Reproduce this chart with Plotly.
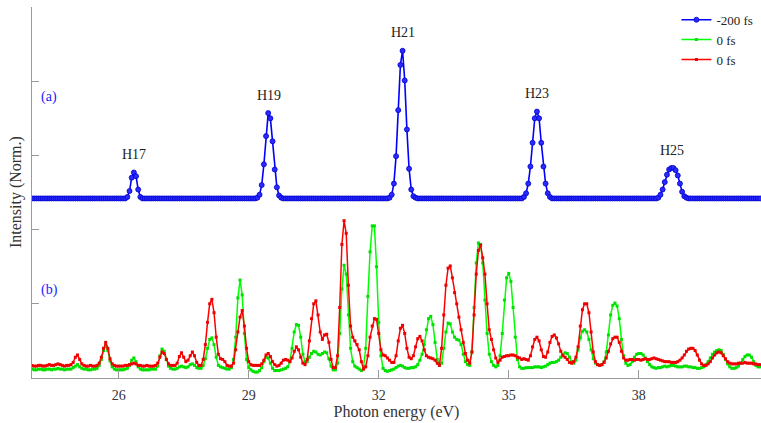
import numpy as np
import plotly.graph_objects as go

# ---------------- data (photon energy grid: 24.00 eV, step 0.05 eV) ----------------
E_START = 24.0
E_STEP = 0.05

# -200 fs (blue), offset trace (a)
B24 = [2.42, 2.42, 2.42, 2.42, 2.42, 2.42, 2.42, 2.42, 2.42, 2.42, 2.42, 2.42, 2.42, 2.42, 2.42, 2.42, 2.42, 2.42, 2.42, 2.42]
B25 = [2.42, 2.42, 2.42, 2.42, 2.42, 2.42, 2.42, 2.42, 2.42, 2.42, 2.42, 2.42, 2.42, 2.42, 2.42, 2.42, 2.42, 2.42, 2.42, 2.42]
B26 = [2.42, 2.42, 2.42, 2.42, 2.44, 2.52, 2.70, 2.77, 2.72, 2.54, 2.44, 2.42, 2.42, 2.42, 2.42, 2.42, 2.42, 2.42, 2.42, 2.42]
B27 = [2.42, 2.42, 2.42, 2.42, 2.42, 2.42, 2.42, 2.42, 2.42, 2.42, 2.42, 2.42, 2.42, 2.42, 2.42, 2.42, 2.42, 2.42, 2.42, 2.42]
B28 = [2.42, 2.42, 2.42, 2.42, 2.42, 2.42, 2.42, 2.42, 2.42, 2.42, 2.42, 2.42, 2.42, 2.42, 2.42, 2.42, 2.42, 2.42, 2.42, 2.42]
B29 = [2.42, 2.42, 2.42, 2.42, 2.43, 2.47, 2.60, 2.88, 3.26, 3.57, 3.50, 3.19, 2.81, 2.57, 2.46, 2.43, 2.42, 2.42, 2.42, 2.42]
B30 = [2.42, 2.42, 2.42, 2.42, 2.42, 2.42, 2.42, 2.42, 2.42, 2.42, 2.42, 2.42, 2.42, 2.42, 2.42, 2.42, 2.42, 2.42, 2.42, 2.42]
B31 = [2.42, 2.42, 2.42, 2.42, 2.42, 2.42, 2.42, 2.42, 2.42, 2.42, 2.42, 2.42, 2.42, 2.42, 2.42, 2.42, 2.42, 2.42, 2.42, 2.42]
B32 = [2.42, 2.42, 2.42, 2.42, 2.42, 2.43, 2.47, 2.62, 2.99, 3.61, 4.22, 4.41, 4.01, 3.35, 2.82, 2.54, 2.45, 2.43, 2.42, 2.42]
B33 = [2.42, 2.42, 2.42, 2.42, 2.42, 2.42, 2.42, 2.42, 2.42, 2.42, 2.42, 2.42, 2.42, 2.42, 2.42, 2.42, 2.42, 2.42, 2.42, 2.42]
B34 = [2.42, 2.42, 2.42, 2.42, 2.42, 2.42, 2.42, 2.42, 2.42, 2.42, 2.42, 2.42, 2.42, 2.42, 2.42, 2.42, 2.42, 2.42, 2.42, 2.42]
B35 = [2.42, 2.42, 2.42, 2.42, 2.42, 2.42, 2.42, 2.44, 2.49, 2.62, 2.85, 3.17, 3.50, 3.59, 3.50, 3.17, 2.85, 2.62, 2.49, 2.44]
B36 = [2.42, 2.42, 2.42, 2.42, 2.42, 2.42, 2.42, 2.42, 2.42, 2.42, 2.42, 2.42, 2.42, 2.42, 2.42, 2.42, 2.42, 2.42, 2.42, 2.42]
B37 = [2.42, 2.42, 2.42, 2.42, 2.42, 2.42, 2.42, 2.42, 2.42, 2.42, 2.42, 2.42, 2.42, 2.42, 2.42, 2.42, 2.42, 2.42, 2.42, 2.42]
B38 = [2.42, 2.42, 2.42, 2.42, 2.42, 2.42, 2.42, 2.42, 2.42, 2.43, 2.47, 2.54, 2.64, 2.74, 2.81, 2.83, 2.83, 2.80, 2.73, 2.62]
B39 = [2.51, 2.45, 2.43, 2.42, 2.42, 2.42, 2.42, 2.42, 2.42, 2.42, 2.42, 2.42, 2.42, 2.42, 2.42, 2.42, 2.42, 2.42, 2.42, 2.42]
B40 = [2.42, 2.42, 2.42, 2.42, 2.42, 2.42, 2.42, 2.42, 2.42, 2.42, 2.42, 2.42, 2.42, 2.42, 2.42, 2.42, 2.42]

# 0 fs (green), trace (b)
G24 = [0.12, 0.11, 0.11, 0.12, 0.12, 0.11, 0.11, 0.12, 0.12, 0.11, 0.12, 0.12, 0.13, 0.12, 0.12, 0.11, 0.12, 0.12, 0.12, 0.14]
G25 = [0.16, 0.18, 0.15, 0.13, 0.12, 0.12, 0.11, 0.11, 0.12, 0.12, 0.13, 0.17, 0.25, 0.37, 0.44, 0.37, 0.23, 0.15, 0.12, 0.11]
G26 = [0.11, 0.11, 0.11, 0.12, 0.13, 0.17, 0.24, 0.27, 0.22, 0.15, 0.12, 0.11, 0.11, 0.11, 0.11, 0.12, 0.12, 0.12, 0.16, 0.30]
G27 = [0.39, 0.36, 0.25, 0.16, 0.13, 0.12, 0.12, 0.13, 0.15, 0.16, 0.15, 0.14, 0.15, 0.18, 0.19, 0.17, 0.14, 0.13, 0.13, 0.17]
G28 = [0.26, 0.40, 0.52, 0.54, 0.45, 0.28, 0.17, 0.15, 0.14, 0.13, 0.12, 0.12, 0.14, 0.25, 0.55, 1.08, 1.32, 1.12, 0.60, 0.25]
G29 = [0.14, 0.11, 0.09, 0.08, 0.08, 0.10, 0.14, 0.22, 0.28, 0.27, 0.20, 0.13, 0.10, 0.10, 0.10, 0.11, 0.12, 0.13, 0.15, 0.22]
G30 = [0.40, 0.62, 0.72, 0.71, 0.55, 0.32, 0.22, 0.22, 0.28, 0.33, 0.36, 0.35, 0.32, 0.31, 0.33, 0.35, 0.34, 0.26, 0.16, 0.11]
G31 = [0.11, 0.20, 0.60, 1.20, 1.52, 1.40, 0.85, 0.40, 0.22, 0.16, 0.14, 0.12, 0.10, 0.15, 0.40, 1.10, 1.70, 2.05, 2.05, 1.50]
G32 = [0.75, 0.30, 0.13, 0.10, 0.09, 0.10, 0.11, 0.12, 0.14, 0.16, 0.17, 0.16, 0.14, 0.13, 0.13, 0.14, 0.14, 0.15, 0.18, 0.24]
G33 = [0.32, 0.45, 0.65, 0.80, 0.83, 0.72, 0.48, 0.25, 0.17, 0.20, 0.40, 0.62, 0.74, 0.73, 0.62, 0.55, 0.52, 0.51, 0.45, 0.32]
G34 = [0.22, 0.18, 0.17, 0.35, 0.95, 1.55, 1.82, 1.80, 1.55, 1.05, 0.60, 0.32, 0.22, 0.17, 0.15, 0.17, 0.30, 0.60, 1.05, 1.35]
G35 = [1.41, 1.30, 0.95, 0.55, 0.25, 0.15, 0.13, 0.13, 0.14, 0.14, 0.14, 0.14, 0.15, 0.15, 0.15, 0.14, 0.15, 0.16, 0.18, 0.20]
G36 = [0.21, 0.21, 0.22, 0.24, 0.28, 0.32, 0.34, 0.33, 0.28, 0.22, 0.20, 0.24, 0.38, 0.54, 0.63, 0.65, 0.62, 0.52, 0.38, 0.26]
G37 = [0.20, 0.18, 0.17, 0.18, 0.22, 0.35, 0.58, 0.85, 0.98, 1.01, 0.97, 0.80, 0.52, 0.30, 0.20, 0.17, 0.18, 0.22, 0.28, 0.32]
G38 = [0.33, 0.33, 0.31, 0.27, 0.22, 0.18, 0.15, 0.14, 0.13, 0.14, 0.14, 0.15, 0.16, 0.15, 0.16, 0.17, 0.17, 0.16, 0.15, 0.15]
G39 = [0.15, 0.16, 0.16, 0.15, 0.15, 0.14, 0.14, 0.13, 0.13, 0.14, 0.15, 0.18, 0.22, 0.27, 0.32, 0.35, 0.37, 0.38, 0.37, 0.32]
G40 = [0.25, 0.19, 0.15, 0.13, 0.13, 0.14, 0.16, 0.20, 0.25, 0.29, 0.31, 0.31, 0.28, 0.22, 0.17, 0.15, 0.15]

# 0 fs (red), trace (b)
R24 = [0.17, 0.16, 0.16, 0.17, 0.17, 0.16, 0.16, 0.17, 0.18, 0.17, 0.17, 0.18, 0.19, 0.18, 0.17, 0.16, 0.17, 0.17, 0.18, 0.21]
R25 = [0.28, 0.31, 0.25, 0.19, 0.17, 0.16, 0.16, 0.17, 0.16, 0.16, 0.17, 0.20, 0.28, 0.40, 0.48, 0.40, 0.26, 0.19, 0.17, 0.16]
R26 = [0.16, 0.16, 0.16, 0.17, 0.17, 0.18, 0.19, 0.20, 0.19, 0.17, 0.17, 0.16, 0.16, 0.17, 0.16, 0.16, 0.16, 0.17, 0.20, 0.28]
R27 = [0.35, 0.33, 0.25, 0.19, 0.17, 0.17, 0.17, 0.20, 0.29, 0.34, 0.28, 0.22, 0.24, 0.30, 0.35, 0.30, 0.21, 0.17, 0.17, 0.25]
R28 = [0.45, 0.75, 1.00, 1.06, 0.88, 0.55, 0.32, 0.26, 0.25, 0.22, 0.17, 0.16, 0.16, 0.20, 0.38, 0.62, 0.82, 0.91, 0.70, 0.40]
R29 = [0.22, 0.18, 0.17, 0.17, 0.17, 0.17, 0.19, 0.24, 0.31, 0.33, 0.29, 0.22, 0.18, 0.16, 0.17, 0.20, 0.24, 0.25, 0.24, 0.22]
R30 = [0.27, 0.36, 0.42, 0.38, 0.28, 0.20, 0.18, 0.25, 0.50, 0.80, 1.00, 1.04, 0.85, 0.62, 0.52, 0.58, 0.59, 0.48, 0.25, 0.14]
R31 = [0.14, 0.30, 0.95, 1.80, 2.12, 1.95, 1.25, 0.70, 0.55, 0.50, 0.45, 0.38, 0.22, 0.12, 0.15, 0.30, 0.55, 0.70, 0.80, 0.79]
R32 = [0.60, 0.38, 0.31, 0.30, 0.27, 0.24, 0.21, 0.21, 0.30, 0.50, 0.67, 0.71, 0.60, 0.40, 0.28, 0.26, 0.30, 0.42, 0.53, 0.56]
R33 = [0.50, 0.38, 0.30, 0.28, 0.27, 0.26, 0.24, 0.20, 0.17, 0.40, 0.85, 1.25, 1.48, 1.51, 1.35, 1.15, 1.00, 0.82, 0.65, 0.48]
R34 = [0.33, 0.24, 0.20, 0.35, 0.85, 1.40, 1.72, 1.79, 1.62, 1.40, 1.00, 0.65, 0.52, 0.38, 0.27, 0.21, 0.24, 0.28, 0.29, 0.30]
R35 = [0.30, 0.31, 0.31, 0.30, 0.28, 0.27, 0.25, 0.26, 0.25, 0.24, 0.30, 0.42, 0.52, 0.55, 0.50, 0.38, 0.29, 0.28, 0.35, 0.48]
R36 = [0.56, 0.58, 0.54, 0.46, 0.36, 0.30, 0.28, 0.25, 0.21, 0.20, 0.22, 0.28, 0.42, 0.70, 0.92, 1.00, 1.00, 0.88, 0.62, 0.35]
R37 = [0.22, 0.18, 0.17, 0.18, 0.21, 0.27, 0.36, 0.46, 0.53, 0.55, 0.55, 0.48, 0.36, 0.27, 0.24, 0.24, 0.25, 0.25, 0.24, 0.25]
R38 = [0.25, 0.24, 0.25, 0.26, 0.25, 0.25, 0.26, 0.27, 0.26, 0.25, 0.24, 0.23, 0.22, 0.22, 0.22, 0.21, 0.21, 0.21, 0.22, 0.24]
R39 = [0.27, 0.31, 0.36, 0.39, 0.40, 0.40, 0.37, 0.31, 0.24, 0.19, 0.17, 0.17, 0.19, 0.22, 0.27, 0.31, 0.34, 0.35, 0.34, 0.30]
R40 = [0.26, 0.22, 0.20, 0.19, 0.19, 0.19, 0.20, 0.20, 0.20, 0.21, 0.20, 0.20, 0.20, 0.19, 0.19, 0.18, 0.18]

blue = B24 + B25 + B26 + B27 + B28 + B29 + B30 + B31 + B32 + B33 + B34 + B35 + B36 + B37 + B38 + B39 + B40
green = G24 + G25 + G26 + G27 + G28 + G29 + G30 + G31 + G32 + G33 + G34 + G35 + G36 + G37 + G38 + G39 + G40
red = R24 + R25 + R26 + R27 + R28 + R29 + R30 + R31 + R32 + R33 + R34 + R35 + R36 + R37 + R38 + R39 + R40

series_names = ["-200 fs", "0 fs", "0 fs"]
harmonic_labels = ["H17", "H19", "H21", "H23", "H25"]
harmonic_energies = [26.35, 29.47, 32.55, 35.65, 38.77]
x_ticks = [26, 29, 32, 35, 38]
panel_labels = ["(a)", "(b)"]

energy = np.round(E_START + E_STEP * np.arange(len(blue)), 2)

FONT = "Liberation Serif, Times New Roman, serif"
AXC = "#9a9a9a"

fig = go.Figure()
fig.add_trace(go.Scatter(
    x=energy, y=blue, name=series_names[0], mode="lines+markers",
    line=dict(color="#0000ff", width=1.6),
    marker=dict(symbol="circle", size=5, color="#2a2aff", line=dict(color="#0000cc", width=0.8)),
))
fig.add_trace(go.Scatter(
    x=energy, y=green, name=series_names[1], mode="lines+markers",
    line=dict(color="#00ff00", width=1.5),
    marker=dict(symbol="square", size=3, color="#00e000"),
))
fig.add_trace(go.Scatter(
    x=energy, y=red, name=series_names[2], mode="lines+markers",
    line=dict(color="#ff0000", width=1.5),
    marker=dict(symbol="square", size=3, color="#ee0000"),
))

blue_arr = np.array(blue)
for lab, e in zip(harmonic_labels, harmonic_energies):
    near = np.abs(energy - e) <= 0.3
    fig.add_annotation(x=e, y=float(blue_arr[near].max()), text=lab, showarrow=False,
                       yanchor="middle", yshift=18, font=dict(family=FONT, size=14, color="#222222"))

fig.add_annotation(xref="paper", yref="paper", x=0.0096, y=0.757, text=panel_labels[0],
                   showarrow=False, xanchor="left", yanchor="middle",
                   font=dict(family=FONT, size=14, color="#1a1aff"))
fig.add_annotation(xref="paper", yref="paper", x=0.0096, y=0.237, text=panel_labels[1],
                   showarrow=False, xanchor="left", yanchor="middle",
                   font=dict(family=FONT, size=14, color="#1a1aff"))
fig.add_annotation(xref="paper", yref="paper", x=-0.0225, y=0.50, text="Intensity (Norm.)",
                   textangle=-90, showarrow=False, xanchor="center", yanchor="middle",
                   font=dict(family=FONT, size=16, color="#333333"))

fig.update_layout(
    width=761, height=423,
    margin=dict(l=32, r=0, t=7, b=45),
    paper_bgcolor="white", plot_bgcolor="white",
    font=dict(family=FONT, size=14, color="#333333"),
    showlegend=True,
    legend=dict(x=0.884, y=1.006, xanchor="left", yanchor="top",
                bgcolor="rgba(0,0,0,0)", font=dict(family=FONT, size=13, color="#222222"),
                tracegroupgap=0, itemwidth=30),
    xaxis=dict(range=[24.0, 40.82], tickvals=x_ticks, ticks="inside", ticklen=8,
               tickcolor=AXC, showline=True, linecolor=AXC, linewidth=1.2,
               showgrid=False, zeroline=False, ticklabelstandoff=4,
               tickfont=dict(family=FONT, size=14, color="#333333"),
               title=dict(text="Photon energy (eV)", standoff=3,
                          font=dict(family=FONT, size=16, color="#333333"))),
    yaxis=dict(range=[0, 5], dtick=1, ticks="inside", ticklen=7, tickcolor=AXC,
               showticklabels=False, showline=True, linecolor=AXC, linewidth=1.2,
               showgrid=False, zeroline=False),
)

fig.write_html("out.html", config={"displayModeBar": False},
               post_script="document.body.style.margin='0';document.body.style.padding='0';")
